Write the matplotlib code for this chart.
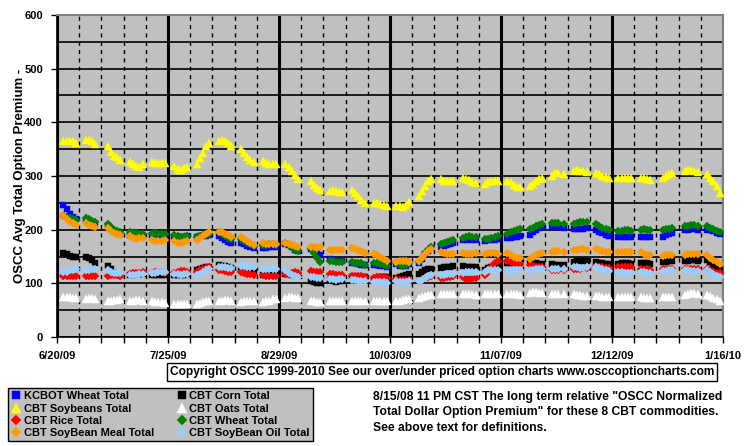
import matplotlib
matplotlib.use("Agg")
import matplotlib.pyplot as plt
import numpy as np
import pandas as pd
from matplotlib.lines import Line2D

plt.rcParams['font.family'] = ['Liberation Sans', 'DejaVu Sans']
plt.rcParams['font.weight'] = 'bold'

# trading days 6/22/09 .. 1/15/10, five per week (None = market holiday)
dates = pd.bdate_range('2009-06-22', '2010-01-15')

kcbot_wheat = [
    246, 238, 230, 224, 220,  217, 215, 212, 210, None,  206, 201, 197, 194, 192,
    190, 189, 188, 188, 188,  190, 190, 190, 190, 190,  186, 187, 186, 186, 188,
    186, 188, 188, 189, 190,  189, 185, 180, 177, 175,  176, 173, 170, 168, 166,
    166, 166, 167, 167, 167,  174, 171, 167, 163, 160,  None, 164, 160, 156, 153,
    145, 143, 142, 142, 142,  138, 137, 136, 135, 134,  135, 134, 133, 132, 131,
    136, 133, 132, 133, 136,  138, 146, 154, 161, 166,  168, 170, 172, 174, 175,
    180, 181, 182, 181, 181,  179, 180, 180, 181, 182,  184, 185, 186, 187, 188,
    190, 195, 200, 203, 205,  205, 206, 205, None, 203,  202, 202, 201, 202, 203,
    199, 196, 193, 190, 188,  187, 187, 187, 187, 187,  186, 186, 186, 186, None,
    187, 190, 192, 194, None,  199, 200, 201, 201, 200,  200, 199, 197, 194, 192,
]
cbt_corn = [
    156, 154, 151, 149, 149,  150, 148, 143, 137, None,  132, 126, 120, 117, 116,
    116, 116, 117, 117, 117,  115, 115, 115, 115, 115,  116, 115, 115, 116, 117,
    125, 127, 129, 130, 131,  135, 133, 132, 130, 128,  125, 124, 123, 122, 121,
    116, 115, 116, 116, 116,  118, 117, 116, 116, 115,  None, 104, 102, 101, 101,
    106, 104, 103, 104, 105,  112, 112, 112, 112, 112,  109, 110, 111, 111, 111,
    110, 112, 114, 116, 118,  118, 121, 124, 126, 127,  129, 130, 131, 131, 132,
    132, 131, 131, 130, 130,  125, 128, 130, 132, 134,  138, 138, 137, 137, 137,
    140, 138, 137, 136, 136,  136, 135, 134, None, 134,  140, 141, 142, 142, 141,
    139, 138, 137, 136, 136,  136, 137, 137, 137, 136,  137, 137, 137, 136, None,
    139, 140, 141, 142, None,  141, 142, 143, 143, 142,  143, 139, 134, 128, 124,
]
cbt_soybeans = [
    365, 365, 365, 365, 362,  367, 367, 365, 360, None,  355, 345, 338, 335, 330,
    327, 322, 318, 316, 322,  326, 325, 325, 325, 324,  318, 313, 312, 315, 317,
    323, 333, 342, 355, 362,  366, 368, 366, 362, 356,  350, 342, 336, 330, 326,
    328, 325, 323, 322, 322,  322, 316, 310, 302, 295,  None, 290, 284, 278, 274,
    272, 273, 272, 271, 270,  274, 268, 262, 255, 250,  250, 249, 248, 246, 244,
    244, 244, 243, 246, 252,  263, 272, 282, 291, 294,  294, 291, 291, 291, 291,
    296, 294, 292, 289, 287,  286, 288, 290, 291, 291,  291, 288, 284, 280, 280,
    282, 286, 291, 294, 296,  300, 305, 306, None, 304,  310, 311, 310, 309, 307,
    306, 303, 300, 298, 296,  297, 297, 297, 297, 297,  296, 296, 294, 292, None,
    297, 300, 303, 305, None,  310, 311, 311, 310, 308,  303, 297, 290, 282, 269,
]
cbt_oats = [
    74, 75, 74, 73, 72,  71, 72, 72, 71, None,  68, 68, 69, 69, 70,
    68, 68, 69, 69, 68,  67, 66, 66, 65, 64,  62, 61, 61, 62, 62,
    62, 64, 66, 67, 68,  68, 68, 69, 69, 68,  66, 67, 68, 68, 67,
    66, 67, 68, 70, 71,  73, 74, 74, 73, 72,  None, 67, 67, 66, 66,
    67, 67, 68, 67, 67,  68, 68, 68, 68, 68,  67, 67, 68, 67, 67,
    68, 68, 69, 70, 71,  72, 74, 76, 78, 79,  80, 80, 81, 81, 80,
    80, 81, 80, 80, 79,  80, 80, 80, 80, 80,  80, 80, 80, 80, 79,
    82, 83, 83, 82, 82,  80, 80, 80, None, 80,  80, 79, 78, 77, 77,
    77, 76, 75, 74, 74,  74, 74, 75, 74, 74,  74, 73, 72, 72, None,
    74, 74, 74, 74, None,  79, 81, 82, 82, 80,  78, 76, 73, 70, 67,
]
cbt_rice = [
    114, 114, 114, 114, 114,  114, 114, 114, 114, None,  114, 116, 116, 115, 114,
    118, 119, 120, 119, 121,  120, 121, 121, 121, 120,  120, 122, 123, 123, 122,
    122, 124, 126, 128, 130,  125, 124, 123, 122, 121,  122, 120, 118, 117, 116,
    115, 114, 114, 114, 114,  117, 118, 120, 121, 120,  None, 123, 122, 122, 121,
    118, 117, 116, 116, 115,  114, 114, 113, 113, 112,  110, 111, 112, 111, 110,
    108, 107, 106, 106, 107,  105, 107, 110, 112, 113,  110, 110, 111, 112, 113,
    111, 109, 108, 109, 110,  116, 122, 130, 137, 141,  141, 140, 138, 137, 136,
    134, 132, 130, 130, 131,  124, 125, 124, None, 124,  127, 127, 127, 128, 128,
    132, 131, 130, 129, 128,  131, 131, 130, 131, 131,  126, 125, 126, 125, None,
    126, 126, 126, 126, None,  126, 126, 126, 126, 126,  126, 124, 122, 120, 119,
]
cbt_wheat = [
    225, 223, 221, 219, 218,  222, 220, 217, 214, None,  210, 205, 200, 198, 196,
    196, 194, 194, 192, 191,  192, 193, 192, 192, 192,  190, 188, 186, 186, 188,
    186, 188, 190, 190, 192,  195, 192, 188, 184, 182,  182, 179, 176, 173, 170,
    172, 172, 173, 173, 172,  176, 172, 168, 163, 160,  None, 164, 156, 147, 140,
    142, 141, 140, 140, 140,  140, 138, 138, 137, 135,  138, 137, 136, 134, 133,
    138, 135, 133, 135, 138,  140, 148, 156, 163, 168,  173, 175, 177, 179, 180,
    184, 186, 188, 187, 186,  182, 183, 184, 186, 188,  192, 195, 198, 200, 202,
    202, 204, 206, 208, 210,  212, 213, 212, None, 210,  211, 213, 214, 215, 214,
    210, 207, 204, 201, 199,  197, 198, 199, 199, 198,  200, 201, 200, 199, None,
    199, 201, 202, 204, None,  206, 207, 208, 208, 207,  206, 204, 201, 198, 195,
]
cbt_soybean_meal = [
    225, 220, 215, 212, 209,  212, 209, 207, 205, None,  203, 198, 194, 192, 190,
    188, 185, 183, 185, 184,  180, 179, 179, 179, 180,  178, 176, 176, 177, 178,
    180, 184, 188, 192, 195,  195, 195, 192, 190, 186,  186, 182, 178, 175, 172,
    175, 174, 174, 174, 173,  176, 174, 172, 170, 167,  None, 168, 167, 166, 167,
    163, 162, 162, 162, 162,  165, 164, 162, 160, 157,  154, 152, 150, 146, 142,
    140, 141, 142, 142, 140,  142, 148, 155, 160, 164,  158, 156, 155, 155, 155,
    156, 155, 155, 155, 156,  155, 156, 156, 156, 155,  156, 153, 150, 148, 147,
    146, 149, 152, 155, 157,  158, 160, 160, None, 159,  162, 163, 164, 164, 163,
    164, 163, 161, 159, 158,  159, 159, 159, 159, 159,  158, 155, 153, 152, None,
    151, 152, 152, 152, None,  153, 154, 155, 155, 154,  152, 148, 144, 140, 136,
]
cbt_soybean_oil = [
    121, 122, 124, 125, 126,  124, 125, 126, 126, None,  124, 122, 120, 120, 119,
    116, 115, 116, 117, 117,  120, 120, 121, 121, 121,  118, 117, 116, 117, 118,
    115, 118, 121, 124, 127,  130, 131, 131, 129, 128,  133, 132, 131, 130, 130,
    127, 127, 126, 126, 126,  124, 120, 116, 113, 112,  None, 112, 111, 110, 110,
    109, 108, 107, 108, 109,  107, 106, 105, 105, 104,  103, 103, 102, 102, 101,
    104, 103, 103, 103, 104,  104, 107, 110, 113, 115,  115, 116, 117, 118, 118,
    120, 121, 122, 122, 121,  122, 124, 125, 125, 125,  123, 123, 124, 124, 124,
    125, 125, 126, 126, 127,  126, 126, 126, None, 126,  131, 130, 129, 129, 130,
    130, 128, 126, 124, 123,  121, 121, 120, 120, 120,  121, 121, 120, 120, None,
    123, 123, 124, 124, None,  124, 124, 123, 123, 123,  124, 121, 118, 114, 111,
]

# legend (row) order = drawing order
series = [
    ('KCBOT Wheat Total', kcbot_wheat, '#0000FF', 's'),
    ('CBT Corn Total', cbt_corn, '#000000', 's'),
    ('CBT Soybeans Total', cbt_soybeans, '#FFFF00', '^'),
    ('CBT Oats Total', cbt_oats, '#FFFFFF', '^'),
    ('CBT Rice Total', cbt_rice, '#FF0000', 'D'),
    ('CBT Wheat Total', cbt_wheat, '#008000', 'D'),
    ('CBT SoyBean Meal Total', cbt_soybean_meal, '#FF9900', 'D'),
    ('CBT SoyBean Oil Total', cbt_soybean_oil, '#99CCFF', 'D'),
]
marker_size = {'s': 4.6, '^': 6.0, 'D': 3.8}

major_dates = pd.date_range('2009-06-20', periods=7, freq='35D')
minor_dates = pd.date_range('2009-06-20', '2010-01-16', freq='7D')
date_labels = [f"{d.month}/{d.day:02d}/{d:%y}" for d in major_dates]

fig = plt.figure(figsize=(7.55, 4.46), dpi=100)
ax = fig.add_axes([57 / 755, 109 / 446, 666 / 755, 322 / 446])
ax.set_facecolor('#C0C0C0')

handles = []
for name, values, color, marker in series:
    y = np.array([np.nan if v is None else v for v in values], dtype=float)
    ax.plot(dates, y, linestyle='none', marker=marker, ms=marker_size[marker],
            mfc=color, mec=color, mew=0.3, zorder=3)
    handles.append(Line2D([], [], linestyle='none', marker=marker,
                          ms=marker_size[marker] * 1.25,
                          mfc=color, mec=color, mew=0.3, label=name))

ax.set_xlim(major_dates[0], major_dates[-1])
ax.set_ylim(0, 600)
ax.set_xticks(major_dates)
ax.set_xticklabels(date_labels, fontsize=8, fontweight='bold')
ax.set_xticks(minor_dates, minor=True)
ax.set_yticks(np.arange(0, 601, 100))
ax.set_yticklabels([str(v) for v in range(0, 601, 100)], fontsize=8, fontweight='bold')
ax.set_yticks(np.arange(50, 600, 100), minor=True)

ax.grid(which='major', axis='y', color='black', lw=1.2, zorder=1)
ax.grid(which='minor', axis='y', color='black', lw=1.2, zorder=1)
ax.grid(which='major', axis='x', color='black', lw=2.2, zorder=1)
ax.grid(which='minor', axis='x', color='black', lw=1.0, ls=(0, (3, 3)), zorder=1)
ax.set_axisbelow(True)

ax.tick_params(axis='both', which='major', length=4, width=1, color='black', pad=6)
ax.tick_params(axis='x', which='minor', length=4, width=1, color='black')
ax.tick_params(axis='y', which='minor', length=0)
for side in ('top', 'right'):
    ax.spines[side].set_color('#808080')
    ax.spines[side].set_linewidth(1.5)
for side in ('left', 'bottom'):
    ax.spines[side].set_color('black')
    ax.spines[side].set_linewidth(1.2)

ax.set_ylabel('OSCC Avg Total Option Premium -', fontsize=9.5, fontweight='bold', labelpad=-1)

fig.text(170 / 755, 1 - 372 / 446,
         'Copyright OSCC 1999-2010 See our over/under priced option charts www.osccoptioncharts.com',
         fontsize=8.6, fontweight='bold', va='center', ha='left',
         bbox=dict(boxstyle='square,pad=0.22', fc='white', ec='black', lw=1))

# legend in row order: pass column-major handles
order = [0, 2, 4, 6, 1, 3, 5, 7]
leg = fig.legend([handles[i] for i in order], [handles[i].get_label() for i in order],
                 ncol=2, loc='upper left', bbox_to_anchor=(8 / 755, 1 - 388 / 446),
                 prop={'size': 8, 'weight': 'bold'}, frameon=True, fancybox=False,
                 facecolor='#C0C0C0', edgecolor='black', framealpha=1,
                 handlelength=0.8, handletextpad=0.3, labelspacing=0.2,
                 columnspacing=2.1, borderpad=0.3, borderaxespad=0)
leg.get_frame().set_linewidth(1)

notes = ['8/15/08 11 PM CST The long term relative "OSCC Normalized',
         'Total Dollar Option Premium" for these 8 CBT commodities.',
         'See above text for definitions.']
for i, line in enumerate(notes):
    fig.text(373 / 755, 1 - (397 + 15.5 * i) / 446, line, fontsize=8.7,
             fontweight='bold', va='center', ha='left')

fig.savefig('out.png', dpi=100)
